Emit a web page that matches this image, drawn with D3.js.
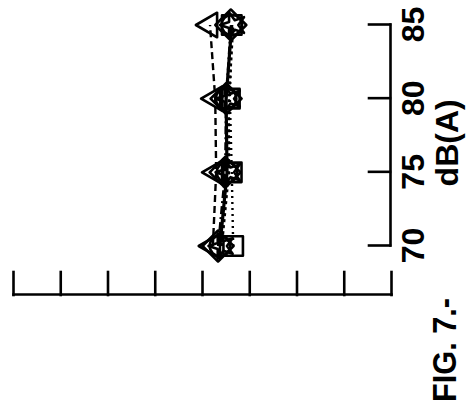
<!DOCTYPE html>
<html>
<head>
<meta charset="utf-8">
<script src="https://cdn.jsdelivr.net/npm/d3@7"></script>
<style>
  html, body { margin: 0; padding: 0; background: #fff; }
  svg { display: block; }
</style>
</head>
<body>
<script>
// Sound level (dB(A)) on the horizontal axis of the upright figure
const dbLevels = [70, 75, 80, 85];
const dbTickLabels = ["70", "75", "80", "85"];
// Unlabelled response axis, one tick per unit
const valueTicks = [0, 1, 2, 3, 4, 5, 6, 7, 8];

// One value per sound level for each plotted series
const circleSeries   = [3.62, 3.47, 3.49, 3.37];
const triangleSeries = [3.77, 3.70, 3.72, 3.83];
const starSeries     = [3.58, 3.43, 3.43, 3.34];
const diamondSeries  = [3.66, 3.51, 3.49, 3.39];
const squareSeries   = [3.34, 3.37, 3.41, 3.37];

const xTitle = "dB(A)";
const figTitle = "FIG. 7.-";

const W = 468, H = 410;
const FONT = "'Liberation Sans', Arial, Helvetica, sans-serif";

const svg = d3.select("body").append("svg")
  .attr("width", W).attr("height", H);

svg.append("rect").attr("width", W).attr("height", H).attr("fill", "#fff");

// The figure is laid out upright and then turned a quarter turn onto the page
const g = svg.append("g").attr("transform", `translate(0,${H}) rotate(-90)`);

const x = d3.scaleLinear().domain([70, 85]).range([164, 385]);
const y = d3.scaleLinear().domain([0, 8]).range([391, 13]);

// dB(A) axis with inward ticks
const xAxis = g.append("g")
  .attr("transform", "translate(0,390)")
  .call(d3.axisBottom(x)
    .tickValues(dbLevels)
    .tickFormat((d, i) => dbTickLabels[i])
    .tickSizeInner(-21)
    .tickSizeOuter(0)
    .tickPadding(11));
xAxis.selectAll("path, line")
  .attr("stroke", "#000").attr("stroke-width", 2.6).attr("stroke-linecap", "square");
xAxis.selectAll("text")
  .attr("font-family", FONT).attr("font-size", 32).attr("font-weight", "bold")
  .attr("fill", "#000");

// Response axis, ticks only
const yAxis = g.append("g")
  .attr("transform", "translate(115,0)")
  .call(d3.axisLeft(y)
    .tickValues(valueTicks)
    .tickFormat("")
    .tickSizeInner(-23)
    .tickSizeOuter(0));
yAxis.selectAll("path, line")
  .attr("stroke", "#000").attr("stroke-width", 2.6).attr("stroke-linecap", "square");

// Series lines and markers
const series = [
  { values: squareSeries,   symbol: d3.symbolSquare,   size: 380, rot: 0,  dash: "2,4" },
  { values: diamondSeries,  symbol: d3.symbolSquare,   size: 480, rot: 45, dash: "8,3,2,3" },
  { values: starSeries,     symbol: d3.symbolStar,     size: 200, rot: 0,  dash: "3,3" },
  { values: triangleSeries, symbol: d3.symbolTriangle, size: 260, rot: 0,  dash: "7,4" },
  { values: circleSeries,   symbol: d3.symbolCircle,   size: 330, rot: 0,  dash: null }
];

const line = d3.line()
  .x(d => x(d.db))
  .y(d => y(d.v));

series.forEach(s => {
  const pts = dbLevels.map((db, i) => ({ db, v: s.values[i] }));
  g.append("path")
    .datum(pts)
    .attr("d", line)
    .attr("fill", "none")
    .attr("stroke", "#000")
    .attr("stroke-width", s.dash ? 2.4 : 3.2)
    .attr("stroke-dasharray", s.dash);
  g.append("g").selectAll("path")
    .data(pts)
    .join("path")
    .attr("d", d3.symbol(s.symbol, s.size))
    .attr("transform", d => `translate(${x(d.db)},${y(d.v)}) rotate(${s.rot})`)
    .attr("fill", "none")
    .attr("stroke", "#000")
    .attr("stroke-width", 2.6)
    .attr("stroke-linejoin", "round");
});

// Axis title
g.append("text")
  .attr("x", x(77)).attr("y", 458)
  .attr("text-anchor", "middle")
  .attr("font-family", FONT).attr("font-size", 32).attr("font-weight", "bold")
  .attr("fill", "#000")
  .text(xTitle);

// Figure caption
g.append("text")
  .attr("x", 8).attr("y", 456)
  .attr("text-anchor", "start")
  .attr("font-family", FONT).attr("font-size", 34).attr("font-weight", "bold")
  .attr("textLength", 104).attr("lengthAdjust", "spacingAndGlyphs")
  .attr("fill", "#000")
  .text(figTitle);
</script>
</body>
</html>
